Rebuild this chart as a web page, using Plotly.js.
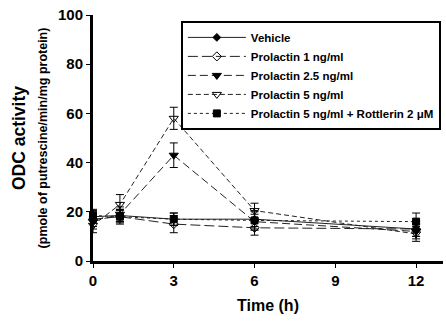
<!DOCTYPE html>
<html><head><meta charset="utf-8">
<script src="https://cdn.plot.ly/plotly-3.0.1.min.js"></script>
<style>html,body{margin:0;padding:0;background:#fff}</style>
</head><body>
<div id="chart" style="width:446px;height:329px"></div>
<script>
var time = [0, 1, 3, 6, 12];
var seriesNames = ["Vehicle", "Prolactin 1 ng/ml", "Prolactin 2.5 ng/ml", "Prolactin 5 ng/ml", "Prolactin 5 ng/ml + Rottlerin 2 \u03bcM"];
var vehicle = [18, 18.5, 17, 17, 13];
var vehicleErr = [2.5, 2.5, 2.5, 3, 3];
var prl1 = [17, 18, 15, 13.5, 13];
var prl1Err = [3, 3, 3.5, 3, 3];
var prl25 = [16, 19, 43, 16, 12];
var prl25Err = [3, 3, 5, 3, 3];
var prl5 = [14.5, 23, 58, 20.5, 11];
var prl5Err = [3, 4, 4.5, 3, 3];
var rott = [18.5, 18, 17, 16.5, 16];
var rottErr = [2.5, 2.5, 2.5, 4, 3.5];
var xTicks = [0, 3, 6, 9, 12];
var yTicks = [0, 20, 40, 60, 80, 100];

var styles = [
  {dash: "solid", symbol: "diamond", size: 6, color: "#000"},
  {dash: "10px,4px", symbol: "diamond-open", size: 7, color: "#000"},
  {dash: "8px,4px", symbol: "triangle-down", size: 8, color: "#000"},
  {dash: "5px,3px", symbol: "triangle-down-open", size: 8, color: "#000"},
  {dash: "dot", symbol: "square", size: 7, color: "#000"}
];
var ys = [vehicle, prl1, prl25, prl5, rott];
var es = [vehicleErr, prl1Err, prl25Err, prl5Err, rottErr];
var traces = ys.map(function(y, i){
  var s = styles[i];
  return {
    x: time, y: y, name: seriesNames[i], type: "scatter", mode: "lines+markers",
    line: {color: "#222", width: 1, dash: s.dash},
    marker: {symbol: s.symbol, size: s.size, color: s.color, line: {color: "#000", width: 1}},
    error_y: {type: "data", array: es[i], visible: true, color: "#000", thickness: 1, width: 4},
    cliponaxis: false
  };
});

var layout = {
  width: 446, height: 329,
  margin: {l: 93, r: 3, t: 15, b: 68},
  paper_bgcolor: "#fff", plot_bgcolor: "#fff",
  font: {family: "Liberation Sans, Arial, sans-serif", color: "#000"},
  showlegend: true,
  legend: {
    x: 0.251, y: 0.976, xanchor: "left", yanchor: "top",
    bgcolor: "#fff", bordercolor: "#000", borderwidth: 2,
    font: {size: 11.5, weight: "bold", family: "Liberation Sans, Arial, sans-serif"},
    itemwidth: 58, tracegroupgap: 0
  },
  xaxis: {
    range: [0, 13], tickvals: xTicks, ticktext: xTicks.map(String), automargin: false,
    showgrid: false, zeroline: false, showline: true, linecolor: "#000", linewidth: 3,
    ticks: "outside", ticklen: 4, tickwidth: 1, tickcolor: "#000",
    tickfont: {size: 15, weight: "bold"},
    title: {text: "Time (h)", font: {size: 16, weight: "bold"}, standoff: 12}
  },
  yaxis: {
    range: [0, 100], tickvals: yTicks, ticktext: yTicks.map(String), automargin: false,
    showgrid: false, zeroline: false, showline: true, linecolor: "#000", linewidth: 3,
    ticks: "outside", ticklen: 4, tickwidth: 1, tickcolor: "#000",
    tickfont: {size: 15, weight: "bold"},
    title: {text: "ODC activity<br><span style='font-size:12.5px'>(pmole of putrescine/min/mg protein)</span>", font: {size: 17.5, weight: "bold"}, standoff: 6}
  }
};
Plotly.newPlot("chart", traces, layout, {staticPlot: true, displayModeBar: false});
</script>
</body></html>
